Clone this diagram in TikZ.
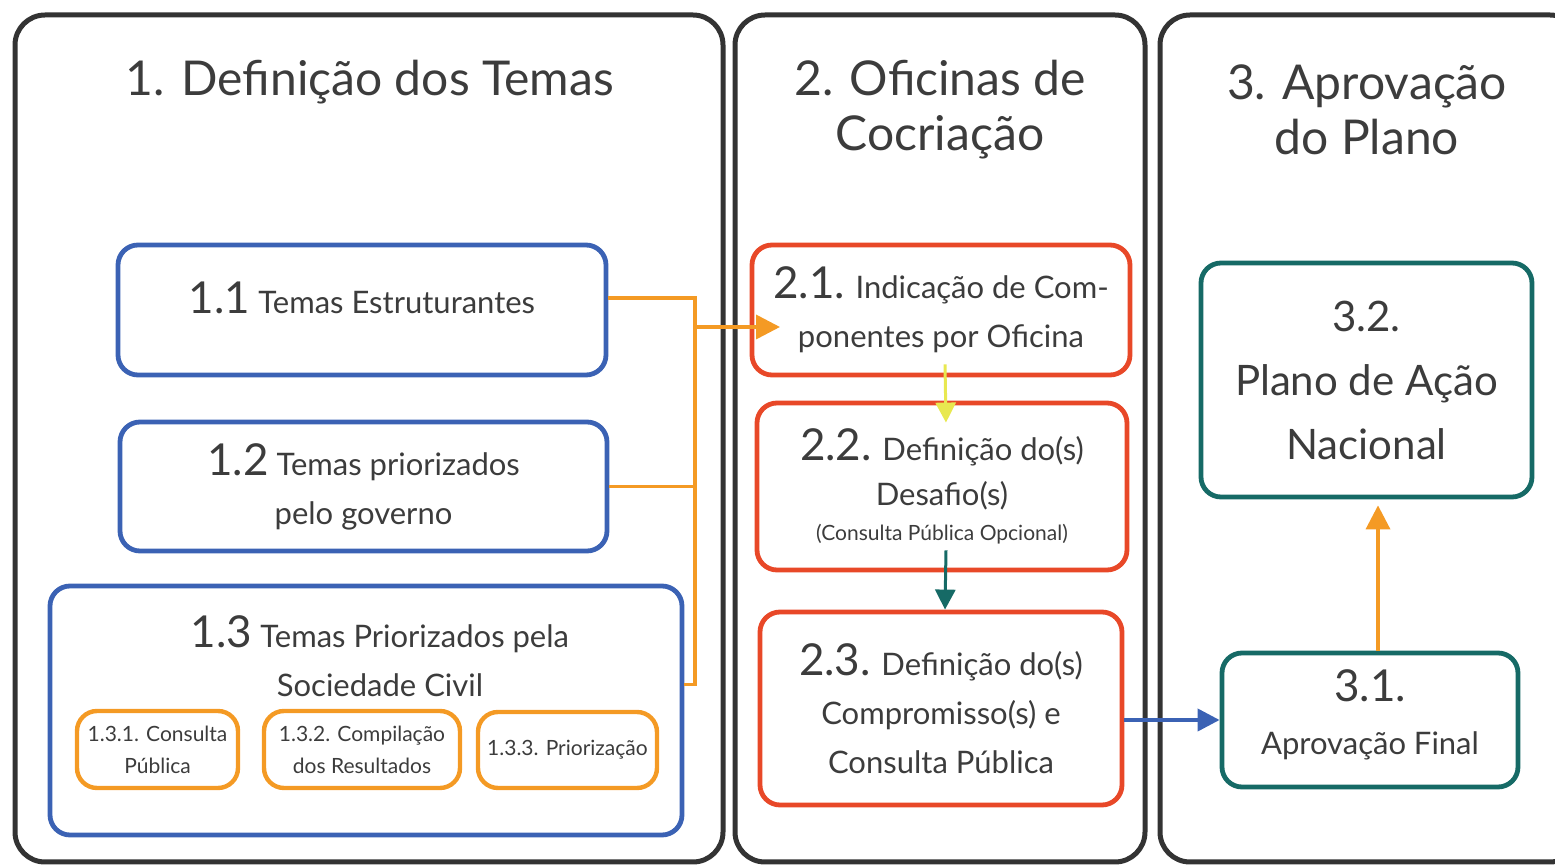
\documentclass[tikz,border=0pt]{standalone}
\usepackage{fontspec}
\setmainfont{Lato}
\usepackage{tikz}
\usetikzlibrary{arrows.meta,positioning,calc}
\usepackage{xcolor}
\definecolor{boxblue}{RGB}{59,98,180}
\definecolor{oranj}{RGB}{244,154,36}
\definecolor{redbox}{RGB}{232,72,40}
\definecolor{tealbox}{RGB}{22,106,102}
\definecolor{panelgrey}{RGB}{51,51,51}
\definecolor{yelarr}{RGB}{232,232,80}
\definecolor{txtgrey}{RGB}{60,60,60}
\newcommand{\bignum}[1]{{\fontsize{22}{24}\selectfont #1}}
\newcommand{\boxfont}{\fontsize{15.5}{24.5}\selectfont}

\begin{document}
\begin{tikzpicture}[x=0.5pt, y=-0.5pt,
    every node/.style={text=txtgrey},
    panel/.style={draw=panelgrey, line width=2.5pt, rounded corners=15pt},
    title/.style={font=\fontsize{24}{27.5}\selectfont, align=center},
    stepbox/.style={rectangle, rounded corners=10pt, line width=2.4pt, align=center, inner sep=0pt, font=\boxfont},
    bluebox/.style={stepbox, draw=boxblue},
    redstep/.style={stepbox, draw=redbox},
    tealstep/.style={stepbox, draw=tealbox},
    subbox/.style={stepbox, draw=oranj, line width=2.2pt, font=\fontsize{10.5}{16}\selectfont},
    orline/.style={draw=oranj, line width=1.8pt},
    orarrow/.style={orline, -{Triangle[length=12pt, width=12pt]}}]
    \useasboundingbox (0,0) rectangle (1555,865);
    \begin{scope}
        \clip (0,0) rectangle (1555,865);
        \draw[panel] (15,15) rectangle (723,862);
        \draw[panel] (735,15) rectangle (1145,862);
        \draw[panel] (1160,15) rectangle (1580,862);
    \end{scope}

    % column titles
    \node[title] (ttl1) at (370,82) {1. Definição dos Temas};
    \node[title] (ttl2) at (940,110) {2. Oficinas de\\Cocriação};
    \node[title] (ttl3) at (1367,110) {3. Aprovação\\do Plano};

    % 1. Definicao dos temas
    \node[bluebox, minimum width=244pt, minimum height=65pt] (t11) at (362,310)
        {\bignum{1.1} Temas Estruturantes\\[-12pt]};
    \node[bluebox, minimum width=243.5pt, minimum height=64.5pt] (t12) at (363.5,486.5)
        {\bignum{1.2} Temas priorizados\\pelo governo};
    \node[bluebox, minimum width=316pt, minimum height=124.5pt] (t13) at (366,710.5) {};
    \node[align=center, font=\boxfont] (t13lbl) at (380,656)
        {\bignum{1.3} Temas Priorizados pela\\Sociedade Civil};
    \node[subbox, minimum width=80.5pt, minimum height=38.5pt] (s131) at (157.5,749.5)
        {1.3.1. Consulta\\Pública};
    \node[subbox, minimum width=98pt, minimum height=38.5pt] (s132) at (362,749.5)
        {1.3.2. Compilação\\dos Resultados};
    \node[subbox, minimum width=89.5pt, minimum height=38pt] (s133) at (567.5,750)
        {1.3.3. Priorização};

    % 2. Oficinas
    \node[redstep, minimum width=189pt, minimum height=65pt] (t21) at (941,310)
        {\bignum{2.1.} Indicação de Com-\\ponentes por Oficina};
    \node[redstep, minimum width=185pt, minimum height=83.5pt] (t22) at (942,486.5)
        {\bignum{2.2.} Definição do(s)\\[-2pt]Desafio(s)\\[-7pt]
         {\fontsize{10.5}{13}\selectfont (Consulta Pública Opcional)}};
    \node[redstep, minimum width=181pt, minimum height=96.5pt] (t23) at (941,708.5)
        {\bignum{2.3.} Definição do(s)\\Compromisso(s) e\\Consulta Pública};

    % 3. Aprovacao
    \node[tealstep, minimum width=165.5pt, minimum height=117pt, font=\fontsize{21}{32}\selectfont] (t32) at (1366.5,380)
        {3.2.\\Plano de Ação\\Nacional};
    \node[tealstep, minimum width=148pt, minimum height=67pt] (t31) at (1370,720)
        {\bignum{3.1.}\\[2pt]Aprovação Final\\[-16.5pt]};

    % connectors
    \coordinate (bus) at (695,0);
    \coordinate (in21) at (780,327);
    \draw[orline] ([yshift=6pt]t11.east) -- ([yshift=6pt]t11.east -| bus)
        -- ([yshift=13pt]t13.east -| bus) -- ([yshift=13pt]t13.east);
    \draw[orline] (t12.east) -- (t12.east -| bus);
    \draw[orarrow] (in21 -| bus) -- (in21);
    \draw[draw=yelarr, line width=1.5pt, -{Triangle[length=10pt, width=10pt]}]
        ([xshift=2pt, yshift=6.5pt]t21.south) -- ([xshift=2pt, yshift=-11pt]t22.north);
    \draw[draw=tealbox, line width=1.5pt, -{Triangle[length=10pt, width=10pt]}]
        ([xshift=2pt, yshift=11pt]t22.south) -- ([xshift=2pt]t23.north);
    \draw[draw=boxblue, line width=2pt, -{Triangle[length=11pt, width=11pt]}]
        (t23.east |- t31.west) -- (t31.west);
    \draw[orarrow] ([xshift=4pt]t31.north) -- ([xshift=4pt, yshift=-3pt]t31.north |- t32.south);
\end{tikzpicture}
\end{document}
